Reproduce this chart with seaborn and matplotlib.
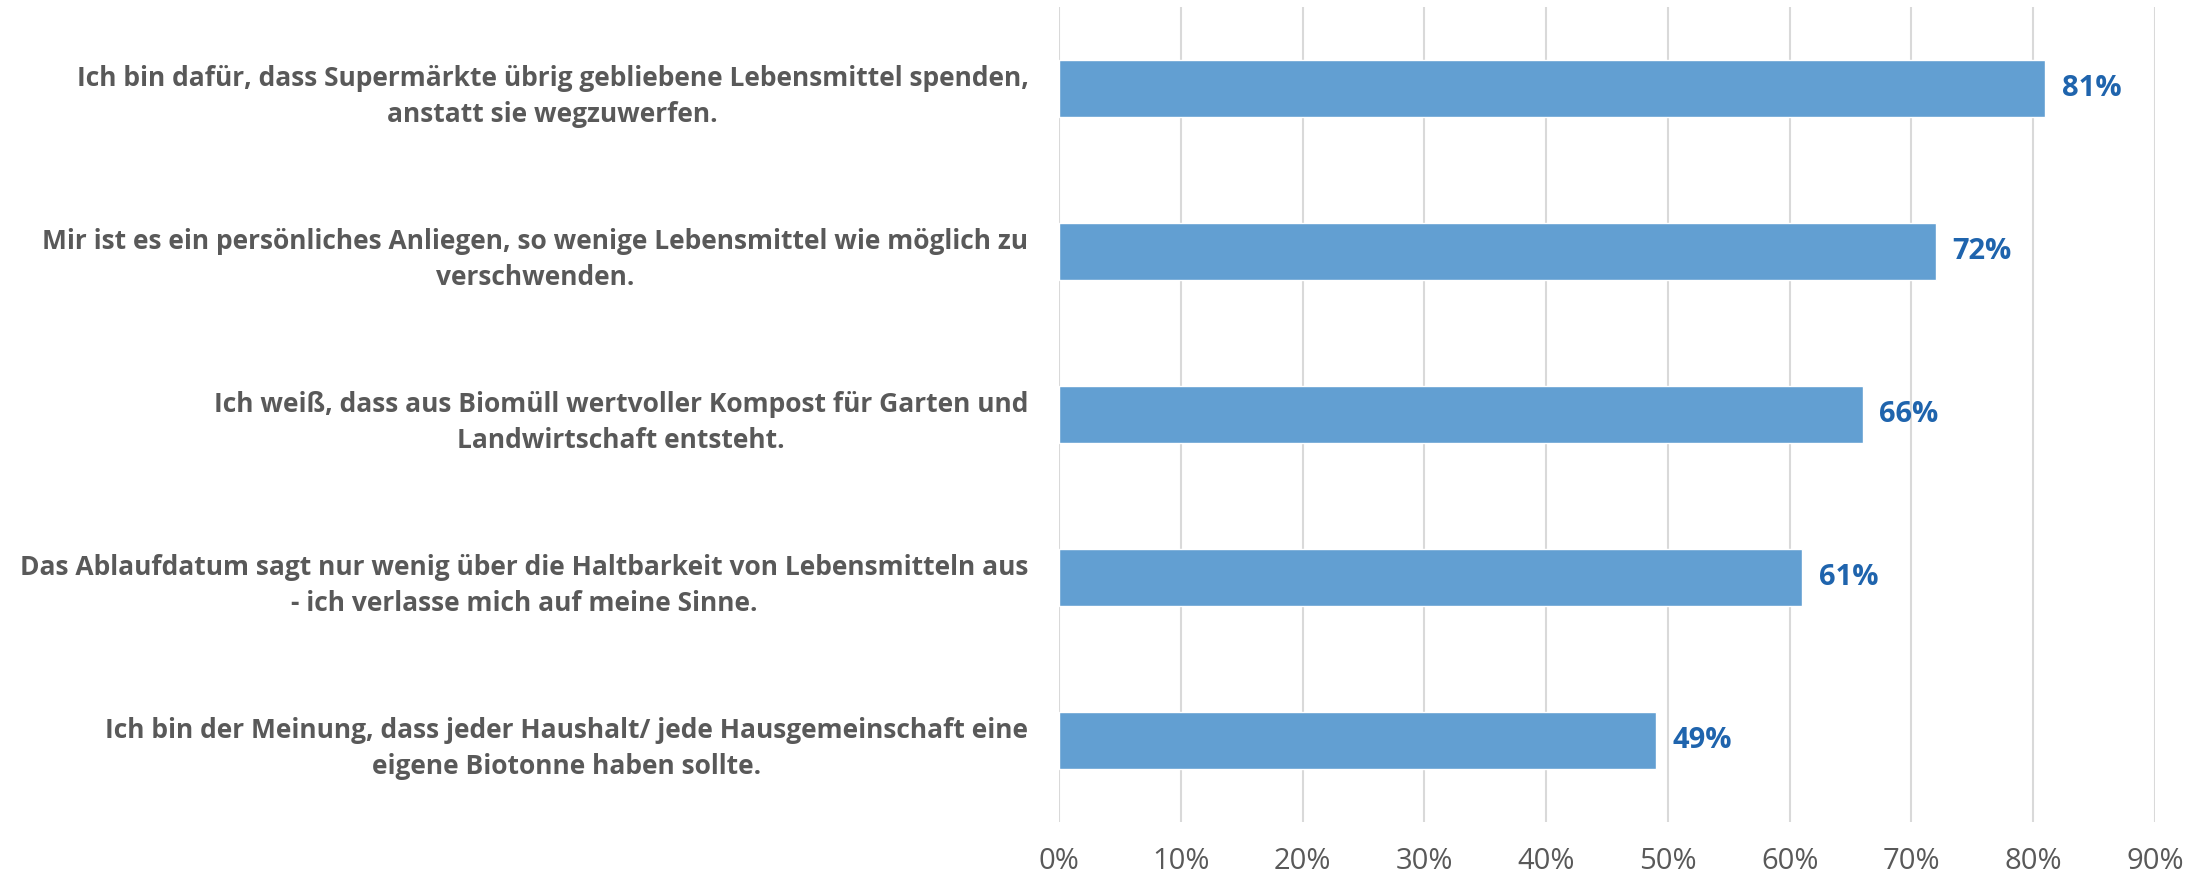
import matplotlib
matplotlib.use('Agg')
import matplotlib.pyplot as plt
import seaborn as sns
import pandas as pd
from matplotlib.ticker import PercentFormatter

# Aussagen und Zustimmung
aussagen = [
    'Ich bin dafür, dass Supermärkte übrig gebliebene Lebensmittel spenden,\nanstatt sie wegzuwerfen.',
    'Mir ist es ein persönliches Anliegen, so wenige Lebensmittel wie möglich zu\nverschwenden.',
    'Ich weiß, dass aus Biomüll wertvoller Kompost für Garten und\nLandwirtschaft entsteht.',
    'Das Ablaufdatum sagt nur wenig über die Haltbarkeit von Lebensmitteln aus\n- ich verlasse mich auf meine Sinne.',
    'Ich bin der Meinung, dass jeder Haushalt/ jede Hausgemeinschaft eine\neigene Biotonne haben sollte.',
]
zustimmung = [0.81, 0.72, 0.66, 0.61, 0.49]

df = pd.DataFrame({'aussage': aussagen, 'wert': zustimmung})

sns.set_style('white')
plt.rcParams['font.family'] = ['Open Sans', 'DejaVu Sans']

fig = plt.figure(figsize=(22.08, 8.76), dpi=100)
ax = fig.add_axes([0.4796, 0.0616, 0.4964, 0.9304])

sns.barplot(data=df, x='wert', y='aussage', orient='h', color='#629FD2',
            width=0.35, saturation=1, ax=ax)

ax.set_xlim(0, 0.9)
ax.set_xticks([i / 10 for i in range(10)])
ax.xaxis.set_major_formatter(PercentFormatter(1.0, decimals=0))
ax.grid(axis='x', color='#D9D9D9', linewidth=1.5)
ax.set_axisbelow(True)
for s in ax.spines.values():
    s.set_visible(False)
ax.set_xlabel('')
ax.set_ylabel('')
ax.tick_params(axis='x', length=0, pad=18, labelsize=21, labelcolor='#595959')
ax.tick_params(axis='y', length=0, pad=22)
for lab in ax.get_yticklabels():
    lab.set_fontsize(19)
    lab.set_fontweight('bold')
    lab.set_color('#595959')
    lab.set_multialignment('center')
    lab.set_linespacing(1.45)

ax.bar_label(ax.containers[0], labels=[f'{int(round(v*100))}%' for v in zustimmung],
             padding=12, fontsize=21, fontweight='bold', color='#1F64AD')

fig.savefig('out.png', dpi=100)
